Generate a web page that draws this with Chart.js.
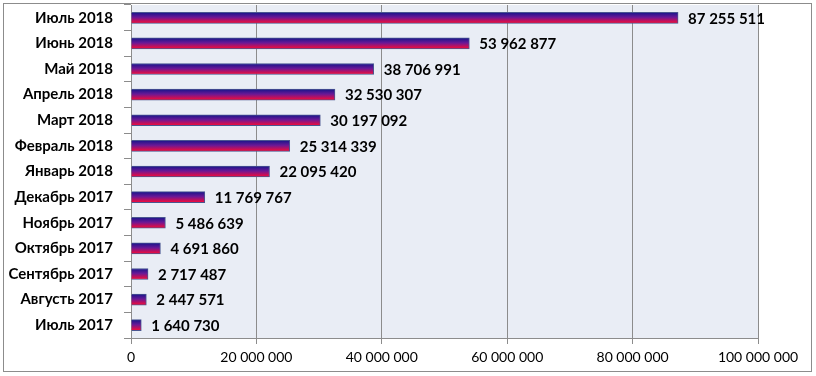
<!DOCTYPE html>
<html>
<head>
<meta charset="utf-8">
<script src="https://cdn.jsdelivr.net/npm/chart.js@4"></script>
<style>
  html, body { margin: 0; padding: 0; background: #fff; }
  #wrap { width: 816px; height: 376px; }
</style>
</head>
<body>
<div id="wrap"><canvas id="barChart" width="816" height="376"></canvas></div>
<script>
// Months, newest first (top of the chart)
const months = [
  'Июль 2018', 'Июнь 2018', 'Май 2018', 'Апрель 2018', 'Март 2018',
  'Февраль 2018', 'Январь 2018', 'Декабрь 2017', 'Ноябрь 2017',
  'Октябрь 2017', 'Сентябрь 2017', 'Августь 2017', 'Июль 2017'
];
const values = [
  87255511, 53962877, 38706991, 32530307, 30197092,
  25314339, 22095420, 11769767, 5486639,
  4691860, 2717487, 2447571, 1640730
];
const xMax = 100000000;
const xStep = 20000000;

// 87255511 -> "87 255 511"
function fmt(n) {
  return String(n).replace(/\B(?=(\d{3})+(?!\d))/g, ' ');
}

const FONT = 'Lato, "Open Sans", sans-serif';

// plot background + outer frame
const frame = {
  id: 'frame',
  beforeDraw(chart) {
    const { ctx, chartArea } = chart;
    ctx.save();
    ctx.fillStyle = '#e9edf5';
    ctx.fillRect(chartArea.left, chartArea.top, chartArea.right - chartArea.left, chartArea.bottom - chartArea.top);
    ctx.strokeStyle = '#8c8c8c';
    ctx.lineWidth = 1;
    ctx.strokeRect(3.5, 3.5, 808, 368);
    ctx.restore();
  }
};

// value labels right of each bar
const valueLabels = {
  id: 'valueLabels',
  afterDatasetsDraw(chart) {
    const { ctx } = chart;
    const meta = chart.getDatasetMeta(0);
    ctx.save();
    ctx.font = 'bold 15px ' + FONT;
    ctx.fillStyle = '#000';
    ctx.textAlign = 'left';
    ctx.textBaseline = 'middle';
    meta.data.forEach((el, i) => {
      ctx.fillText(fmt(values[i]), el.x + 10, el.y + 1);
    });
    ctx.restore();
  }
};

// vertical gradient per bar: navy -> purple -> red
function barGradient(c) {
  const chart = c.chart;
  const y = chart.scales && chart.scales.y;
  if (!y || c.dataIndex === undefined) return '#7a1890';
  const cy = y.getPixelForValue(c.dataIndex);
  if (!Number.isFinite(cy)) return '#7a1890';
  const g = chart.ctx.createLinearGradient(0, cy - 5.5, 0, cy + 5.5);
  g.addColorStop(0, '#15158a');
  g.addColorStop(0.45, '#6a1896');
  g.addColorStop(1, '#ff0a32');
  return g;
}

const ctx = document.querySelector('#barChart').getContext('2d');
const barChart = new Chart(ctx, {
  type: 'bar',
  data: {
    labels: months,
    datasets: [{
      data: values,
      backgroundColor: barGradient,
      borderColor: '#4a5690',
      borderWidth: 1,
      barThickness: 11
    }]
  },
  options: {
    indexAxis: 'y',
    responsive: false,
    animation: false,
    events: [],
    layout: { padding: { top: 5, right: 58, bottom: 0, left: 0 } },
    plugins: {
      legend: { display: false },
      tooltip: { enabled: false }
    },
    scales: {
      x: {
        min: 0,
        max: xMax,
        ticks: {
          stepSize: xStep,
          color: '#000',
          padding: 5,
          font: { family: FONT, size: 14 },
          callback: (v) => fmt(v)
        },
        grid: { color: '#8c8c8c', tickLength: 6 },
        border: { color: '#8c8c8c' },
        afterFit: (s) => { s.height = 38; }
      },
      y: {
        ticks: {
          color: '#000',
          padding: 11,
          font: { family: FONT, size: 15, weight: 'bold' }
        },
        grid: { offset: true, drawOnChartArea: false, color: '#8c8c8c', tickLength: 7 },
        border: { color: '#8c8c8c' },
        afterFit: (s) => { s.width = 131; s.paddingTop = 0; s.paddingBottom = 0; }
      }
    }
  },
  plugins: [frame, valueLabels]
});
</script>
</body>
</html>
